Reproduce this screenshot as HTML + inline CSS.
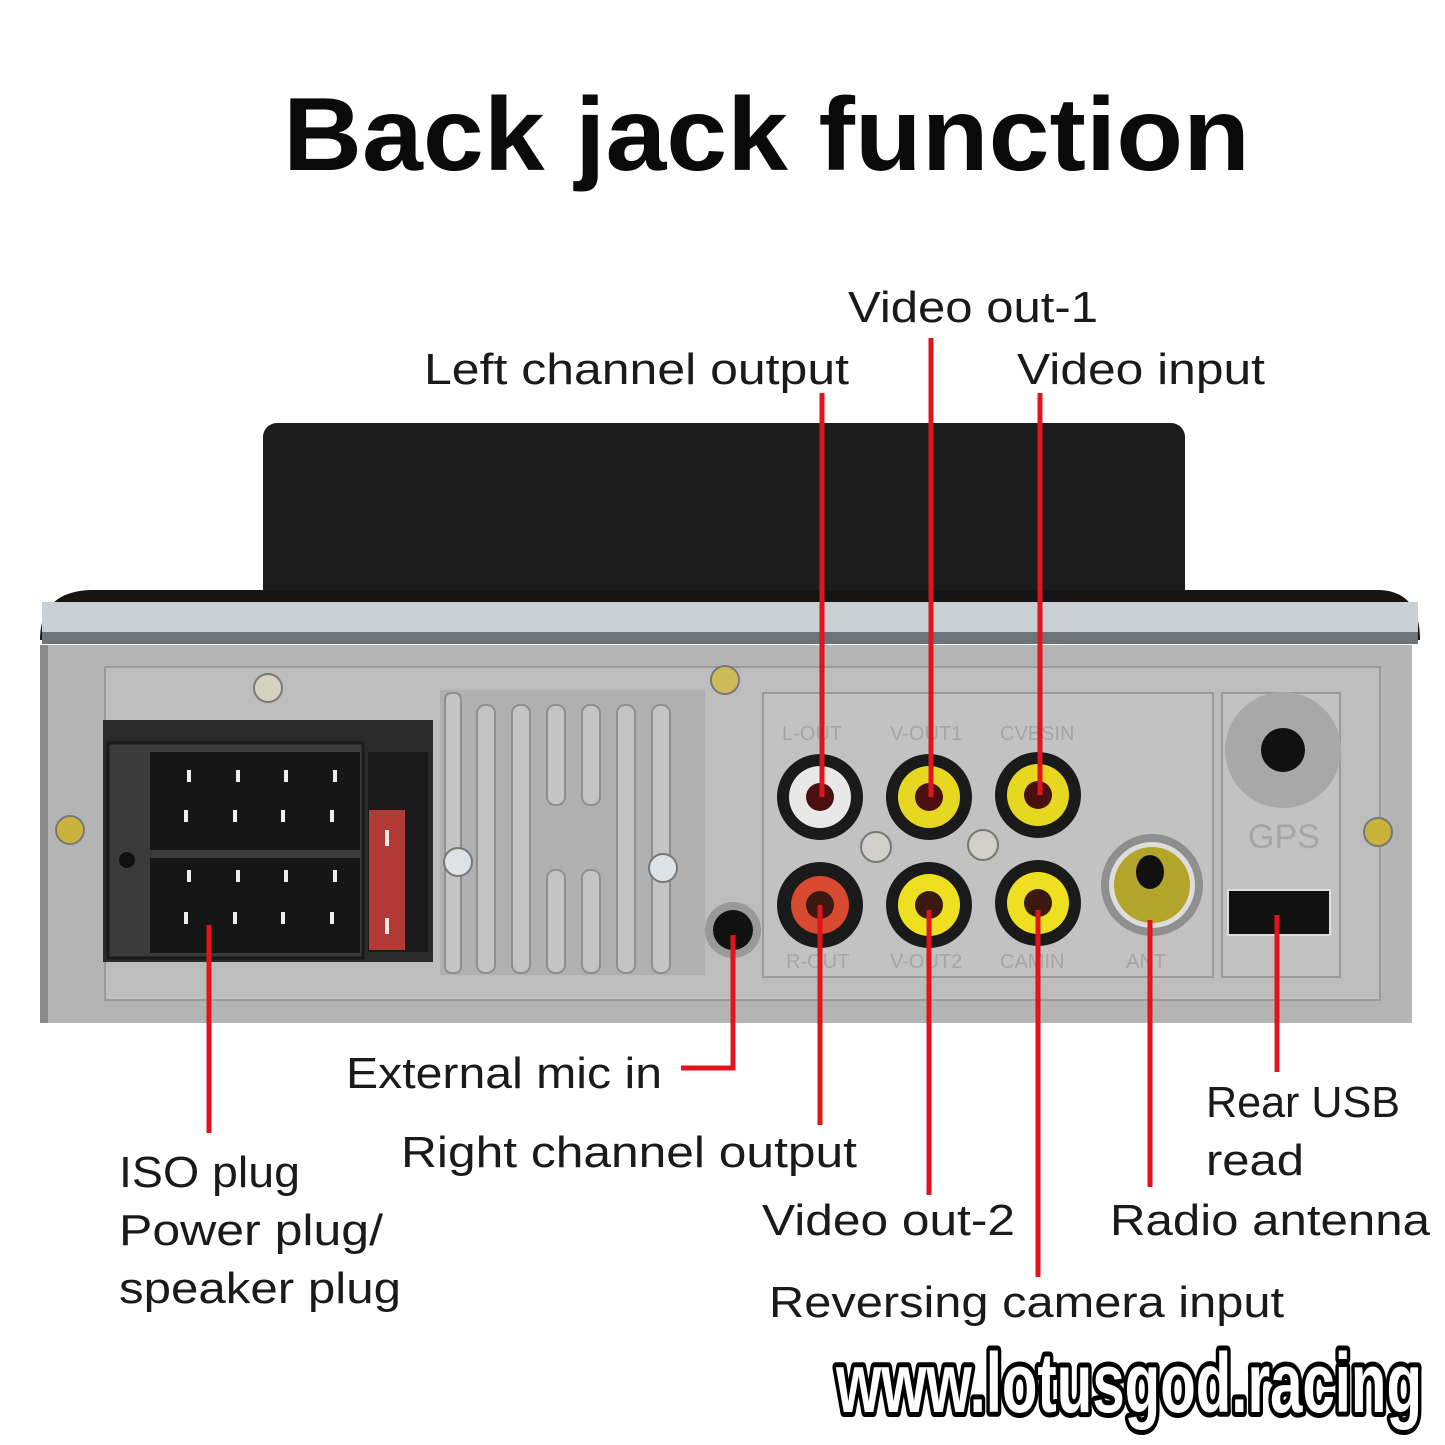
<!DOCTYPE html>
<html><head><meta charset="utf-8"><style>
html,body{margin:0;padding:0;background:#fff;}
svg{display:block;}
.l{font-family:"Liberation Sans",sans-serif;font-size:44px;fill:#1a1a1a;}
</style></head><body>
<svg width="1445" height="1445" viewBox="0 0 1445 1445" xmlns="http://www.w3.org/2000/svg">
<rect width="1445" height="1445" fill="#fff"/>
<text x="283" y="170" font-family="Liberation Sans, sans-serif" font-weight="bold" font-size="104" fill="#0a0a0a" textLength="967" lengthAdjust="spacingAndGlyphs">Back jack function</text>

<rect x="263" y="423" width="922" height="180" rx="14" fill="#1c1c1c"/>
<path d="M40 640 Q40 592 90 590 L1380 590 Q1420 592 1420 640 Z" fill="#151515"/>
<rect x="42" y="602" width="1376" height="42" fill="#c9cfd3"/>
<rect x="42" y="632" width="1376" height="12" fill="#6d7378"/>
<rect x="40" y="645" width="1372" height="378" fill="#b4b4b4"/>
<rect x="40" y="645" width="8" height="378" fill="#8a8a8a"/>
<rect x="105" y="667" width="1275" height="333" fill="#bdbdbd" stroke="#9a9a9a" stroke-width="2"/>
<rect x="440" y="690" width="265" height="285" fill="#b0b0b0"/>
<g fill="#c4c4c4" stroke="#8f8f8f" stroke-width="2">
<rect x="445" y="693" width="16" height="280" rx="6"/>
<rect x="477" y="705" width="18" height="268" rx="8"/>
<rect x="512" y="705" width="18" height="268" rx="8"/>
<rect x="547" y="705" width="18" height="100" rx="8"/>
<rect x="547" y="870" width="18" height="103" rx="8"/>
<rect x="582" y="705" width="18" height="100" rx="8"/>
<rect x="582" y="870" width="18" height="103" rx="8"/>
<rect x="617" y="705" width="18" height="268" rx="8"/>
<rect x="652" y="705" width="18" height="268" rx="8"/>
</g>
<rect x="103" y="720" width="330" height="242" fill="#2a2a2a"/>
<rect x="108" y="743" width="255" height="215" fill="#3b3b3b" stroke="#1a1a1a" stroke-width="3"/>
<rect x="150" y="752" width="210" height="98" fill="#161616"/>
<rect x="150" y="858" width="210" height="95" fill="#161616"/>
<rect x="368" y="752" width="60" height="200" fill="#1a1a1a"/>
<rect x="369" y="810" width="36" height="140" fill="#b23a34"/>
<g fill="#eee">
<rect x="187" y="770" width="4" height="12"/><rect x="236" y="770" width="4" height="12"/><rect x="284" y="770" width="4" height="12"/><rect x="333" y="770" width="4" height="12"/>
<rect x="184" y="810" width="4" height="12"/><rect x="233" y="810" width="4" height="12"/><rect x="281" y="810" width="4" height="12"/><rect x="330" y="810" width="4" height="12"/>
<rect x="187" y="870" width="4" height="12"/><rect x="236" y="870" width="4" height="12"/><rect x="284" y="870" width="4" height="12"/><rect x="333" y="870" width="4" height="12"/>
<rect x="184" y="912" width="4" height="12"/><rect x="233" y="912" width="4" height="12"/><rect x="281" y="912" width="4" height="12"/><rect x="330" y="912" width="4" height="12"/>
<rect x="385" y="830" width="4" height="16"/><rect x="385" y="918" width="4" height="16"/>
</g>
<circle cx="127" cy="860" r="8" fill="#111"/>
<rect x="763" y="693" width="450" height="284" fill="#c2c2c2" stroke="#9a9a9a" stroke-width="2"/>
<rect x="1222" y="693" width="118" height="284" fill="#c2c2c2" stroke="#9a9a9a" stroke-width="2"/>
<g>
<circle cx="820" cy="797" r="43" fill="#1a1a1a"/><circle cx="820" cy="797" r="31" fill="#e8e8e8"/><circle cx="820" cy="797" r="14" fill="#4a1010"/>
<circle cx="929" cy="797" r="43" fill="#1a1a1a"/><circle cx="929" cy="797" r="31" fill="#e6d820"/><circle cx="929" cy="797" r="14" fill="#4a1010"/>
<circle cx="1038" cy="795" r="43" fill="#1a1a1a"/><circle cx="1038" cy="795" r="31" fill="#e6d820"/><circle cx="1038" cy="795" r="14" fill="#4a1010"/>
<circle cx="820" cy="905" r="43" fill="#1a1a1a"/><circle cx="820" cy="905" r="29" fill="#d84a30"/><circle cx="820" cy="905" r="14" fill="#3a1a10"/>
<circle cx="929" cy="905" r="43" fill="#1a1a1a"/><circle cx="929" cy="905" r="31" fill="#eee020"/><circle cx="929" cy="905" r="14" fill="#3a1a10"/>
<circle cx="1038" cy="903" r="43" fill="#1a1a1a"/><circle cx="1038" cy="903" r="31" fill="#eee020"/><circle cx="1038" cy="903" r="14" fill="#3a1a10"/>
<circle cx="1152" cy="885" r="51" fill="#8f8f8f"/><circle cx="1152" cy="885" r="43" fill="#ddd"/><circle cx="1152" cy="885" r="38" fill="#b3a42a"/><ellipse cx="1150" cy="872" rx="14" ry="17" fill="#111"/>
<circle cx="1283" cy="750" r="58" fill="#a8a8a8"/><circle cx="1283" cy="750" r="22" fill="#111"/>
<rect x="1228" y="890" width="102" height="45" fill="#111" stroke="#ddd" stroke-width="2"/>
<circle cx="733" cy="930" r="28" fill="#999"/><circle cx="733" cy="930" r="20" fill="#111"/>
</g>
<g font-family="Liberation Sans, sans-serif" font-size="20" fill="#a5a5a5">
<text x="782" y="740">L-OUT</text><text x="890" y="740">V-OUT1</text><text x="1000" y="740">CVBSIN</text>
<text x="786" y="968">R-OUT</text><text x="890" y="968">V-OUT2</text><text x="1000" y="968">CAMIN</text><text x="1126" y="968">ANT</text>
<text x="1248" y="848" font-size="34">GPS</text>
</g>
<g stroke="#777" stroke-width="2">
<circle cx="268" cy="688" r="14" fill="#d6d2c0"/><circle cx="725" cy="680" r="14" fill="#cdbb5a"/>
<circle cx="70" cy="830" r="14" fill="#c9b33a"/><circle cx="1378" cy="832" r="14" fill="#c9b33a"/>
<circle cx="458" cy="862" r="14" fill="#dde2e6"/><circle cx="663" cy="868" r="14" fill="#dde2e6"/>
<circle cx="876" cy="847" r="15" fill="#d0d0c8"/><circle cx="983" cy="845" r="15" fill="#d0d0c8"/>
</g>

<g stroke="#e0141c" stroke-width="5" fill="none">
<line x1="822" y1="393" x2="822" y2="797"/>
<line x1="931" y1="338" x2="931" y2="797"/>
<line x1="1040" y1="393" x2="1040" y2="795"/>
<line x1="209" y1="925" x2="209" y2="1133"/>
<polyline points="733,935 733,1068 681,1068"/>
<line x1="820" y1="905" x2="820" y2="1125"/>
<line x1="929" y1="910" x2="929" y2="1195"/>
<line x1="1038" y1="910" x2="1038" y2="1277"/>
<line x1="1150" y1="920" x2="1150" y2="1187"/>
<line x1="1277" y1="915" x2="1277" y2="1072"/>
</g>

<text class="l" x="848" y="322" textLength="250" lengthAdjust="spacingAndGlyphs">Video out-1</text>
<text class="l" x="424" y="384" textLength="425" lengthAdjust="spacingAndGlyphs">Left channel output</text>
<text class="l" x="1017" y="384" textLength="248" lengthAdjust="spacingAndGlyphs">Video input</text>
<text class="l" x="346" y="1088" textLength="316" lengthAdjust="spacingAndGlyphs">External mic in</text>
<text class="l" x="401" y="1167" textLength="456" lengthAdjust="spacingAndGlyphs">Right channel output</text>
<text class="l" x="119" y="1187" textLength="181" lengthAdjust="spacingAndGlyphs">ISO plug</text>
<text class="l" x="119" y="1245" textLength="264" lengthAdjust="spacingAndGlyphs">Power plug/</text>
<text class="l" x="119" y="1303" textLength="282" lengthAdjust="spacingAndGlyphs">speaker plug</text>
<text class="l" x="1206" y="1117" textLength="194" lengthAdjust="spacingAndGlyphs">Rear USB</text>
<text class="l" x="1206" y="1175" textLength="98" lengthAdjust="spacingAndGlyphs">read</text>
<text class="l" x="762" y="1235" textLength="253" lengthAdjust="spacingAndGlyphs">Video out-2</text>
<text class="l" x="1110" y="1235" textLength="320" lengthAdjust="spacingAndGlyphs">Radio antenna</text>
<text class="l" x="769" y="1317" textLength="515" lengthAdjust="spacingAndGlyphs">Reversing camera input</text>

<text x="836" y="1412" font-family="Liberation Sans, sans-serif" font-weight="bold" font-size="84" fill="#fff" stroke="#000" stroke-width="10" stroke-linejoin="round" paint-order="stroke" textLength="586" lengthAdjust="spacingAndGlyphs">www.lotusgod.racing</text>
</svg>
</body></html>
